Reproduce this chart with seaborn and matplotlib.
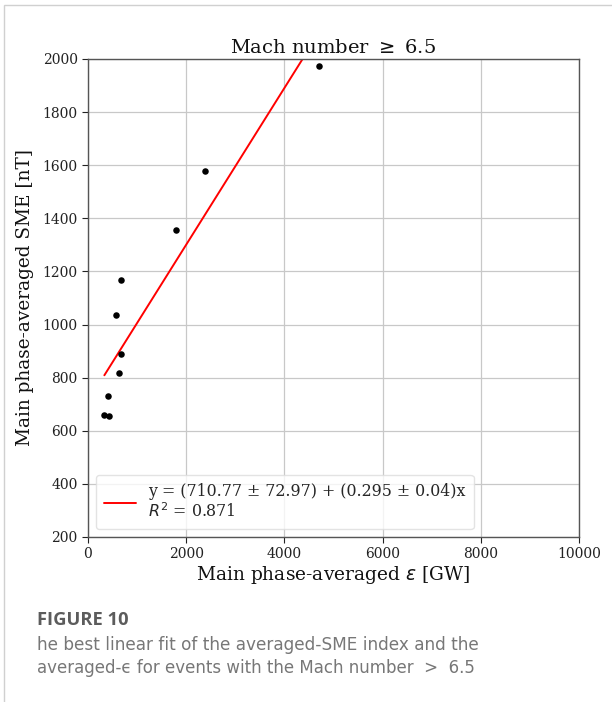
import matplotlib
matplotlib.use("Agg")
import matplotlib.pyplot as plt
import numpy as np
import pandas as pd
import seaborn as sns
from matplotlib.patches import Rectangle

# Event averages (main phase), Mach number >= 6.5
epsilon_gw = [4708, 2374, 1796, 667, 578, 667, 626, 415, 333, 429]
sme_nt = [1972, 1579, 1355, 1169, 1037, 888, 819, 730, 661, 657]

# Linear fit parameters
fit_intercept = 710.77
fit_intercept_err = 72.97
fit_slope = 0.295
fit_slope_err = 0.04
fit_r2 = 0.871

x_ticks = [0, 2000, 4000, 6000, 8000, 10000]
y_ticks = [200, 400, 600, 800, 1000, 1200, 1400, 1600, 1800, 2000]

sns.set_style("ticks")
plt.rcParams["font.family"] = ["DejaVu Serif"]
plt.rcParams["mathtext.fontset"] = "dejavusans"

df = pd.DataFrame({"eps": epsilon_gw, "sme": sme_nt})
x_fit = np.array([min(epsilon_gw), max(epsilon_gw)])
fit_df = pd.DataFrame({"eps": x_fit, "sme": fit_intercept + fit_slope * x_fit})

W, H = 612, 702
fig = plt.figure(figsize=(W / 100, H / 100), dpi=100)
ax = fig.add_axes([88 / W, 1 - 537 / H, (579 - 88) / W, (537 - 59) / H])

label = (f"y = ({fit_intercept} ± {fit_intercept_err}) + ({fit_slope} ± {fit_slope_err})x\n"
         f"$R^2$ = {fit_r2}")
sns.lineplot(data=fit_df, x="eps", y="sme", ax=ax, color="red", linewidth=1.4,
             label=label)
sns.scatterplot(data=df, x="eps", y="sme", ax=ax, color="black", s=22,
                edgecolor="black", linewidth=0, zorder=3)

ax.set_xlim(0, 10000)
ax.set_ylim(200, 2000)
ax.set_xticks(x_ticks)
ax.set_yticks(y_ticks)
ax.tick_params(labelsize=10, colors="#222222", length=4, width=0.8)
ax.grid(True, color="#c8c8c8", linewidth=0.9)
ax.set_axisbelow(True)
for sp in ax.spines.values():
    sp.set_color("#555555")
    sp.set_linewidth(1.0)

ax.set_xlabel(r"Main phase-averaged $\varepsilon$ [GW]", fontsize=13.4, color="#111111", labelpad=2)
ax.set_ylabel("Main phase-averaged SME [nT]", fontsize=13.3, color="#111111", labelpad=6)
ax.set_title("Mach number $\\geq$ 6.5", fontsize=14, color="#111111", pad=4)

leg = ax.legend(loc="lower left", fontsize=11.4, frameon=True, handlelength=2.0,
                borderaxespad=0.5, framealpha=0.8, borderpad=0.5)
leg.get_frame().set_edgecolor("#dddddd")

# card border and caption
fig.patches.append(Rectangle((4 / W, -0.1), 1.2, 1 - 5 / H + 0.1, transform=fig.transFigure,
                             fill=False, edgecolor="#d0d0d0", linewidth=1.0))
caption = [
    ("FIGURE 10", 620, 91, "bold", "#5c5c5c", ["Open Sans", "DejaVu Sans"]),
    ("he best linear fit of the averaged-SME index and the", 645, 443, "normal", "#777777",
     ["DejaVu Sans"]),
    ("averaged-\u03f5 for events with the Mach number  >  6.5", 668, 439, "normal", "#777777",
     ["DejaVu Sans"]),
]
renderer = fig.canvas.get_renderer()
for txt, yc, width_px, weight, col, fam in caption:
    t = fig.text(37 / W, 1 - yc / H, txt, fontsize=11, fontweight=weight,
                 color=col, family=fam, va="center")
    w = t.get_window_extent(renderer).width
    t.set_fontsize(11 * width_px / w)

fig.savefig("out.png", dpi=100)
